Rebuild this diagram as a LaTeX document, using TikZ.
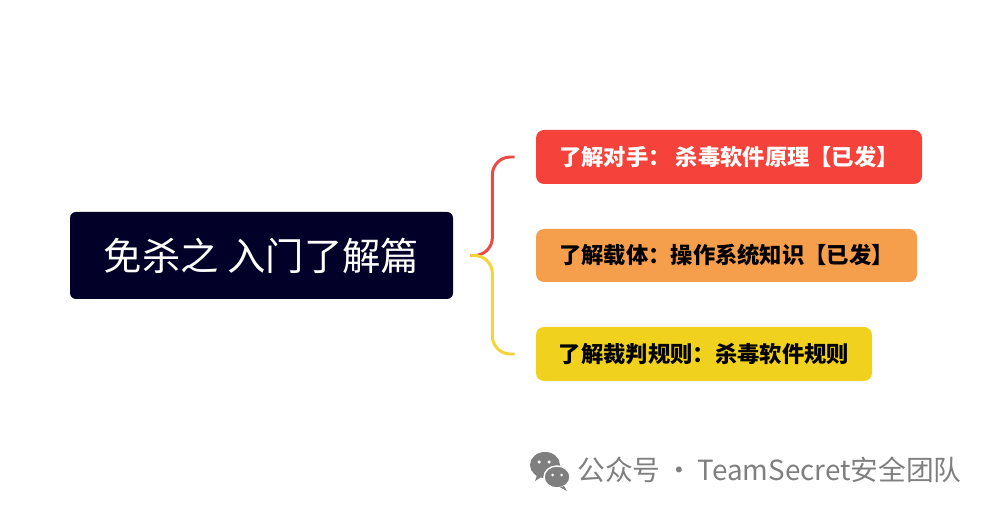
\documentclass[tikz,border=0pt]{standalone}
\usepackage{fontspec}
\usepackage{tikz}
\usetikzlibrary{positioning}
\newfontfamily\cjk{Noto Sans CJK SC}
\definecolor{rootblue}{RGB}{2,0,40}
\definecolor{topicred}{RGB}{245,67,59}
\definecolor{topicorange}{RGB}{245,158,76}
\definecolor{topicyellow}{RGB}{240,210,30}
\definecolor{linkred}{RGB}{236,75,69}
\definecolor{linkyellow}{RGB}{241,213,58}
\definecolor{markgray}{RGB}{127,127,127}
\tikzset{
  topic/.style={rounded corners=0.16cm, minimum height=1.08cm, inner sep=0pt,
    font=\cjk\bfseries\fontsize{12.7}{14}\selectfont},
  link/.style={line width=1.7pt, rounded corners=0.36cm}
}

\begin{document}
\begin{tikzpicture}
  \useasboundingbox[fill=white] (0,0) rectangle (19.9,10.28);

  % Draw the root
  \node[fill=rootblue, text=white, rounded corners=0.12cm, minimum width=7.66cm,
    minimum height=1.74cm, inner sep=0pt, font=\cjk\fontsize{21.8}{24}\selectfont]
    (root) at (5.23,5.17) {免杀之 入门了解篇};

  % Draw the three topics
  \node[topic, fill=topicred, text=white, minimum width=7.72cm]
    (adversary) at (14.58,7.14) {了解对手： 杀毒软件原理【已发】};
  \node[topic, fill=topicorange, text=black, minimum width=7.62cm, minimum height=1.06cm]
    (carrier) at (14.53,5.17) {了解载体：操作系统知识【已发】};
  \node[topic, fill=topicyellow, text=black, minimum width=6.72cm]
    (judge) at (14.08,3.20) {了解裁判规则：杀毒软件规则};

  % Connect root to topics
  \coordinate (fork) at ([xshift=0.34cm]root.east);
  \coordinate (bend) at ([xshift=0.44cm]fork);
  \coordinate (redend) at ([xshift=-0.42cm]adversary.west);
  \coordinate (yellowend) at ([xshift=-0.42cm]judge.west);
  \draw[link, linkred] (fork) -- (bend) |- (redend);
  \draw[link, linkyellow] (fork) -- (bend) |- (yellowend);

  % Watermark
  \fill[markgray] (10.90,0.98) ellipse (0.30 and 0.26);
  \fill[markgray] (10.74,0.78) -- (10.70,0.66) -- (10.86,0.76) -- cycle;
  \fill[white] (10.78,1.04) circle (0.035);
  \fill[white] (10.98,1.04) circle (0.035);
  \filldraw[markgray, draw=white, line width=0.8pt] (11.14,0.74) ellipse (0.26 and 0.22);
  \fill[markgray] (11.28,0.56) -- (11.34,0.46) -- (11.20,0.53) -- cycle;
  \fill[white] (11.05,0.78) circle (0.03);
  \fill[white] (11.23,0.78) circle (0.03);
  \node[anchor=west, inner sep=0pt, text=markgray, font=\cjk\fontsize{15.8}{18}\selectfont]
    (mark) at (11.54,0.88) {公众号\,·\,TeamSecret安全团队};
\end{tikzpicture}
\end{document}
